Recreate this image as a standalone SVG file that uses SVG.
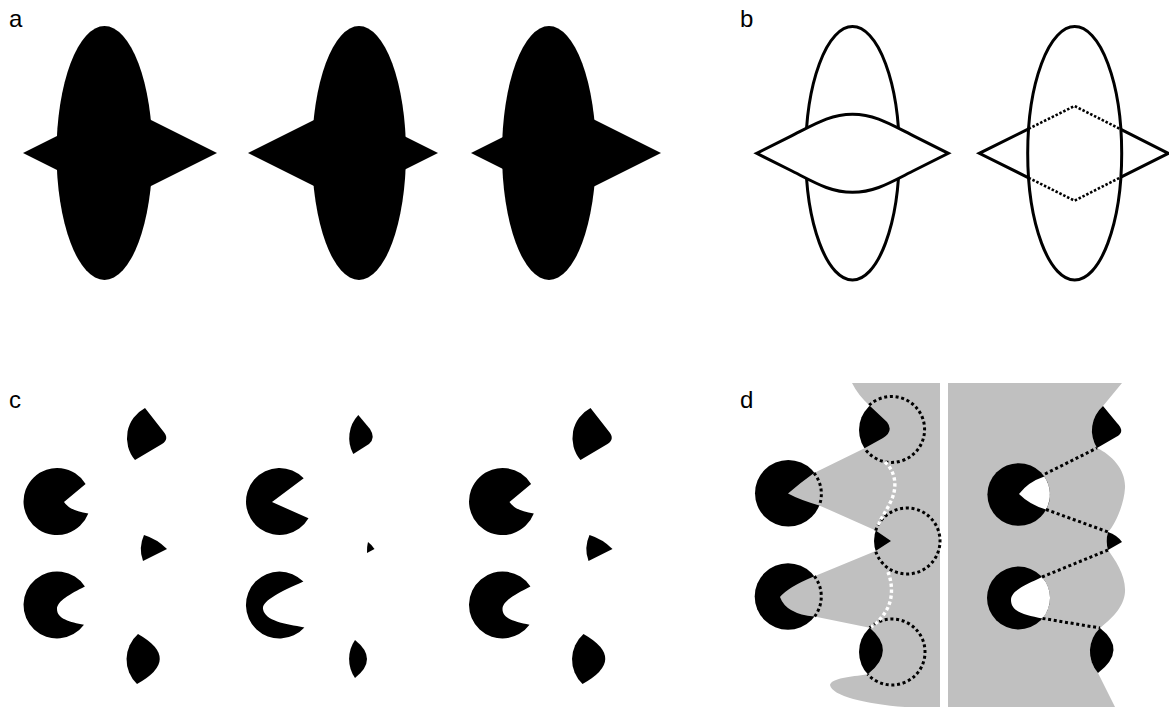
<svg xmlns="http://www.w3.org/2000/svg" width="1169" height="707" viewBox="0 0 1169 707">
<style>
.lbl{font-family:"Liberation Sans",Arial,sans-serif;font-size:24px;fill:#000}
.blk{fill:#000;stroke:none}
.ol{fill:none;stroke:#000;stroke-width:3}
.dot{fill:none;stroke:#000;stroke-width:3;stroke-dasharray:3 2.7}
.wdot{fill:none;stroke:#fff;stroke-width:3.4;stroke-dasharray:3.4 2.6}
.gray{fill:#c0c0c0;stroke:none}
</style>
<defs>
<g id="cset">
<path class="blk" d="M85.6,484 A33.5,33.5 0 1 0 88.3,513.5 Q70,511 64,502 L85.6,484 Z"/>
<path class="blk" d="M84.9,586.4 A33.5,33.5 0 1 0 84,624.8 C70,622 57,619 57,609 C57,601 70,594 84.9,586.4 Z"/>
<path class="blk" d="M145,408 L163,431 Q170,439 162,444 L135,460 A34,34 0 0 1 145,408 Z"/>
<path class="blk" d="M144,535 Q157,539 167,549 L143,561 A34,34 0 0 1 144,535 Z"/>
<path class="blk" d="M138,634 Q182,659 137,684 A34,34 0 0 1 138,634 Z"/>
</g>
</defs>

<text class="lbl" x="9" y="27">a</text>
<text class="lbl" x="740" y="27">b</text>
<text class="lbl" x="9" y="408">c</text>
<text class="lbl" x="740" y="408">d</text>

<g id="a1">
<ellipse class="blk" cx="104.5" cy="153" rx="48" ry="127"/>
<polygon class="blk" points="23,153 120,104.5 217,153 120,201.5"/>
</g>
<g id="a2">
<ellipse class="blk" cx="359" cy="153" rx="47" ry="127"/>
<polygon class="blk" points="248,153 343,105.5 438,153 343,200.5"/>
</g>
<g id="a3">
<ellipse class="blk" cx="549" cy="153" rx="47" ry="127"/>
<polygon class="blk" points="471,153 566,105.5 661,153 566,200.5"/>
</g>

<g id="b1">
<ellipse class="ol" cx="852.5" cy="153.3" rx="46.8" ry="126.7"/>
<path class="ol" style="fill:#fff" d="M756.7,153.3 L790,136.6 C815,124 830,114.3 852.5,114.3 C875,114.3 890,124 915,136.6 L948.3,153.3 L915,170 C890,182.6 875,192.3 852.5,192.3 C830,192.3 815,182.6 790,170 Z"/>
</g>
<g id="b2">
<ellipse class="ol" cx="1074.7" cy="153.3" rx="47" ry="126.7"/>
<path class="ol" d="M1028.6,128.8 L979.3,153.3 L1028.6,177.8 M1120.9,129.4 L1168.3,153.3 L1120.9,177.2"/>
<path class="dot" style="stroke-width:2.6;stroke-dasharray:2.5 1.8" d="M1028.6,128.8 L1074.5,106 L1120.9,129.4 M1028.6,177.8 L1074.5,200.7 L1120.9,177.2"/>
</g>

<g id="c1"><use href="#cset"/></g>
<g id="c2">
<path class="blk" d="M303.7,478.3 A33.5,33.5 0 1 0 308.5,518.3 L272,502 L303.7,478.3 Z"/>
<path class="blk" d="M303.4,581.6 A33.5,33.5 0 1 0 304.4,627.4 C285,624 265,621 263,609 C262,601 280,592 303.4,581.6 Z"/>
<path class="blk" d="M358.3,415 L370,429 Q376,438 369,444 L353.3,454 A33.5,33.5 0 0 1 358.3,415 Z"/>
<path class="blk" d="M368,542 Q372,545 374.5,549 L367,553 A33.5,33.5 0 0 1 368,542 Z"/>
<path class="blk" d="M355,640 Q379,659 355,678 A33.5,33.5 0 0 1 355,640 Z"/>
</g>
<g id="c3"><use href="#cset" transform="translate(445.5,0)"/></g>

<g id="d-left">
<circle class="blk" cx="788.3" cy="493.3" r="33.3"/>
<circle class="blk" cx="788" cy="596.5" r="33.3"/>
<circle class="blk" cx="892" cy="430" r="33"/>
<circle class="blk" cx="907" cy="541" r="33"/>
<circle class="blk" cx="892" cy="652" r="33"/>
<path class="gray" d="M852,383 L940,383 L940,707 L905,707 C865,704 832,696 830,685 C832,678 850,677 867.7,674.3 Q897,651 869.7,627.7 L814.5,616.6 Q786,614 780,597 Q788,587 814.4,576.2 L875.6,551.1 L891,541 L875.7,530.6 L819.3,505.4 Q800,500 788,493.5 Q800,483 814,473 L864.5,448.3 L883,438 Q894,431 887,422 L869.2,405.2 Q858,395 852,383 Z"/>
<path class="dot" d="M869.2,405.2 A33,33 0 1 1 864.5,448.3"/>
<path class="dot" d="M875.7,530.6 A33,33 0 1 1 875.6,551.1"/>
<path class="dot" d="M869.7,627.7 A33,33 0 1 1 867.7,674.3"/>
<path class="dot" d="M814,473 A33.3,33.3 0 0 1 819.3,505.4"/>
<path class="dot" d="M814.4,576.2 A33.3,33.3 0 0 1 814.5,616.6"/>
<path class="wdot" d="M885,462 C896,472 898,488 890,503 C886,512 879,520 878,527"/>
<path class="wdot" d="M888,572 C892,582 894,598 886,611 C881,619 876,624 871,627"/>
</g>

<g id="d-right">
<path class="gray" d="M948,383 L1122,383 L1103,406 A32.5,32.5 0 0 0 1097,448 C1112,455 1126,470 1125,488 C1124,505 1115,525 1108,532 A32.5,32.5 0 0 0 1108,550 C1115,560 1126,575 1125,592 C1124,608 1110,620 1100,628 A32.5,32.5 0 0 0 1098,673 L1115,707 L948,707 Z"/>
<circle class="blk" cx="1018.7" cy="494.5" r="31.3"/>
<circle class="blk" cx="1018.5" cy="598" r="31.5"/>
<path fill="#fff" d="M1019,494 Q1028,482 1044.3,476.5 A31.3,31.3 0 0 1 1046,509.5 Q1030,505 1019,494 Z"/>
<path fill="#fff" d="M1042,577 A31.5,31.5 0 0 1 1042.5,618.4 C1025,615 1011,612 1011,600 C1011,590 1028,584 1042,577 Z"/>
<path class="blk" d="M1103,406 L1117,423 Q1126,432 1116,437 L1097,448 A32.5,32.5 0 0 1 1103,406 Z"/>
<path class="blk" d="M1108,532 Q1117,535 1122,542 L1108,550 A32.5,32.5 0 0 1 1108,532 Z"/>
<path class="blk" d="M1100,628 Q1128,650 1098,673 A32.5,32.5 0 0 1 1100,628 Z"/>
</g>

<g id="connectors">
<path class="dot" d="M1045,474 L1097,448 M1046,509.5 L1108,532 M1042,577 L1108,550 M1042.5,618.4 L1100,628"/>
</g>
</svg>
